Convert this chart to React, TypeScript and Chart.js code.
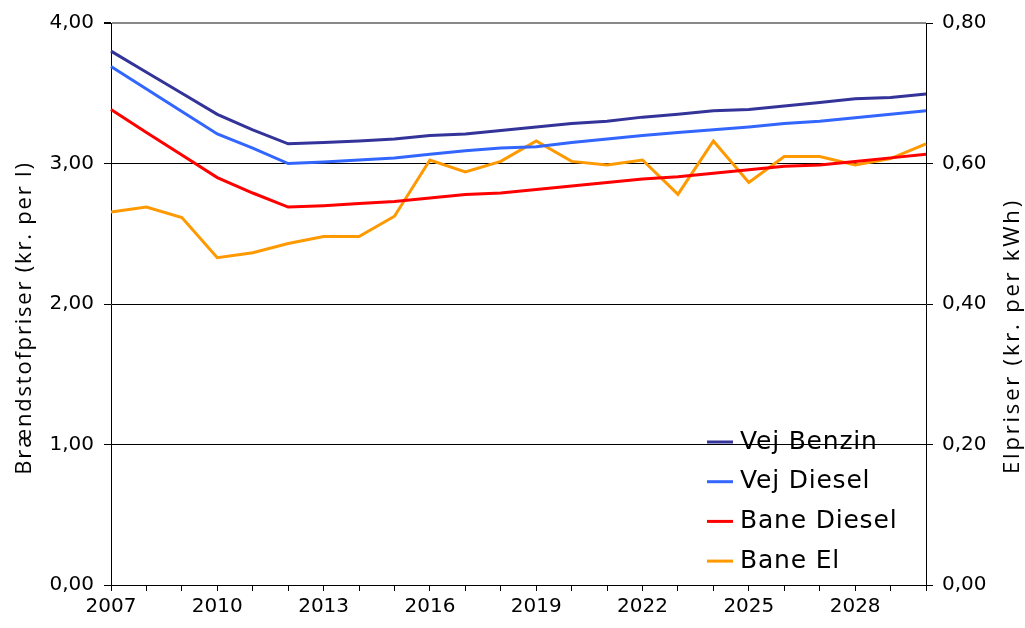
import React, { useEffect, useRef } from "react";
import { Chart, registerables } from "chart.js";

Chart.register(...registerables);

const years = [
  "2007", "2008", "2009", "2010", "2011", "2012", "2013", "2014", "2015", "2016", "2017", "2018",
  "2019", "2020", "2021", "2022", "2023", "2024", "2025", "2026", "2027", "2028", "2029", "2030",
];

const vejBenzin = [
  3.80, 3.65, 3.50, 3.35, 3.24, 3.14, 3.15, 3.16, 3.175, 3.20, 3.21, 3.235,
  3.26, 3.285, 3.30, 3.33, 3.35, 3.375, 3.385, 3.41, 3.435, 3.46, 3.47, 3.495,
];
const vejDiesel = [
  3.69, 3.53, 3.37, 3.21, 3.11, 3.00, 3.01, 3.025, 3.04, 3.065, 3.09, 3.11,
  3.12, 3.15, 3.175, 3.20, 3.22, 3.24, 3.26, 3.285, 3.30, 3.325, 3.35, 3.375,
];
const baneDiesel = [
  3.385, 3.22, 3.06, 2.90, 2.79, 2.69, 2.70, 2.715, 2.73, 2.755, 2.78, 2.79,
  2.815, 2.84, 2.865, 2.89, 2.905, 2.93, 2.955, 2.98, 2.99, 3.015, 3.04, 3.065,
];
const baneEl = [
  0.531, 0.538, 0.523, 0.466, 0.473, 0.486, 0.496, 0.496, 0.525, 0.605, 0.588, 0.603,
  0.632, 0.603, 0.598, 0.605, 0.556, 0.632, 0.573, 0.610, 0.610, 0.598, 0.607, 0.628,
];

const seriesNames = ["Vej Benzin", "Vej Diesel", "Bane Diesel", "Bane El"];
const seriesColors = ["#333399", "#3366ff", "#ff0000", "#ff9900"];

const leftTitle = "Brændstofpriser (kr. per l)";
const rightTitle = "Elpriser (kr. per kWh)";

const FONT = "'DejaVu Sans', sans-serif";
const TITLE_FONT = "'Open Sans', 'DejaVu Sans', sans-serif";

const fmt = (v: number) => v.toFixed(2).replace(".", ",");

export default function App() {
  const ref = useRef<HTMLCanvasElement | null>(null);

  useEffect(() => {
    if (!ref.current) return;

    const drawVertical = (ctx: any, text: string, x: number, y: number, spacing: string) => {
      ctx.save();
      ctx.fillStyle = "#000";
      ctx.font = `22px ${TITLE_FONT}`;
      ctx.letterSpacing = spacing;
      ctx.textAlign = "center";
      ctx.textBaseline = "middle";
      ctx.translate(x, y);
      ctx.rotate(-Math.PI / 2);
      ctx.fillText(text, 0, 0);
      ctx.restore();
    };

    const titlesPlugin = {
      id: "sideTitles",
      afterDraw(chart: any) {
        drawVertical(chart.ctx, leftTitle, 25, 318, "1.8px");
        drawVertical(chart.ctx, rightTitle, 1013, 336, "2.8px");
      },
    };

    const legendPlugin = {
      id: "innerLegend",
      afterDraw(chart: any) {
        const ctx = chart.ctx;
        ctx.save();
        ctx.font = `25px ${FONT}`;
        ctx.letterSpacing = "0.8px";
        ctx.textBaseline = "middle";
        ctx.textAlign = "left";
        chart.data.datasets.forEach((ds: any, i: number) => {
          const y = 442 + i * 39.7;
          ctx.strokeStyle = ds.borderColor;
          ctx.lineWidth = 3;
          ctx.beginPath();
          ctx.moveTo(707, y);
          ctx.lineTo(733, y);
          ctx.stroke();
          ctx.fillStyle = "#000";
          ctx.fillText(ds.label, 740, y);
        });
        ctx.restore();
      },
    };

    const chart = new Chart(ref.current, {
      type: "line",
      data: {
        labels: years,
        datasets: [
          { label: seriesNames[0], data: vejBenzin, borderColor: seriesColors[0], yAxisID: "y" },
          { label: seriesNames[1], data: vejDiesel, borderColor: seriesColors[1], yAxisID: "y" },
          { label: seriesNames[2], data: baneDiesel, borderColor: seriesColors[2], yAxisID: "y" },
          { label: seriesNames[3], data: baneEl, borderColor: seriesColors[3], yAxisID: "y2" },
        ].map((d) => ({ ...d, borderWidth: 3, pointRadius: 0, tension: 0, fill: false })),
      },
      options: {
        responsive: false,
        animation: false,
        layout: { padding: { top: 23, left: 0, right: 0, bottom: 0 } },
        plugins: { legend: { display: false }, tooltip: { enabled: false } },
        scales: {
          x: {
            offset: false,
            grid: {
              display: true,
              drawOnChartArea: false,
              drawTicks: true,
              tickLength: 6,
              tickColor: "#000",
            },
            border: { display: true, color: "#000", width: 1 },
            ticks: {
              autoSkip: false,
              maxRotation: 0,
              minRotation: 0,
              padding: 4,
              color: "#000",
              font: { family: FONT, size: 20 },
              callback: (_v: any, i: number) => (i % 3 === 0 ? years[i] : ""),
            },
            afterFit: (s: any) => {
              s.height = 43;
            },
          },
          y: {
            position: "left",
            min: 0,
            max: 4,
            grid: {
              color: (c: any) => (c.tick && c.tick.value === 4 ? "#888888" : "#000000"),
              lineWidth: (c: any) => (c.tick && c.tick.value === 4 ? 2 : 1),
              drawTicks: true,
              tickLength: 7,
              tickColor: "#000",
            },
            border: { display: true, color: "#000", width: 1 },
            ticks: {
              stepSize: 1,
              padding: 10,
              color: "#000",
              font: { family: FONT, size: 20 },
              callback: (v: any) => fmt(Number(v)),
            },
            afterFit: (s: any) => {
              s.width = 111;
            },
          },
          y2: {
            position: "right",
            min: 0,
            max: 0.8,
            grid: {
              drawOnChartArea: false,
              drawTicks: true,
              tickLength: 7,
              tickColor: "#000",
            },
            border: { display: true, color: "#000", width: 1 },
            ticks: {
              stepSize: 0.2,
              padding: 9,
              color: "#000",
              font: { family: FONT, size: 20 },
              callback: (v: any) => fmt(Number(v)),
            },
            afterFit: (s: any) => {
              s.width = 99;
            },
          },
        },
      },
      plugins: [titlesPlugin, legendPlugin],
    } as any);

    return () => chart.destroy();
  }, []);

  return (
    <div style={{ position: "fixed", left: 0, top: 0, width: 1025, height: 628, background: "#fff" }}>
      <canvas ref={ref} width={1025} height={628} />
    </div>
  );
}
